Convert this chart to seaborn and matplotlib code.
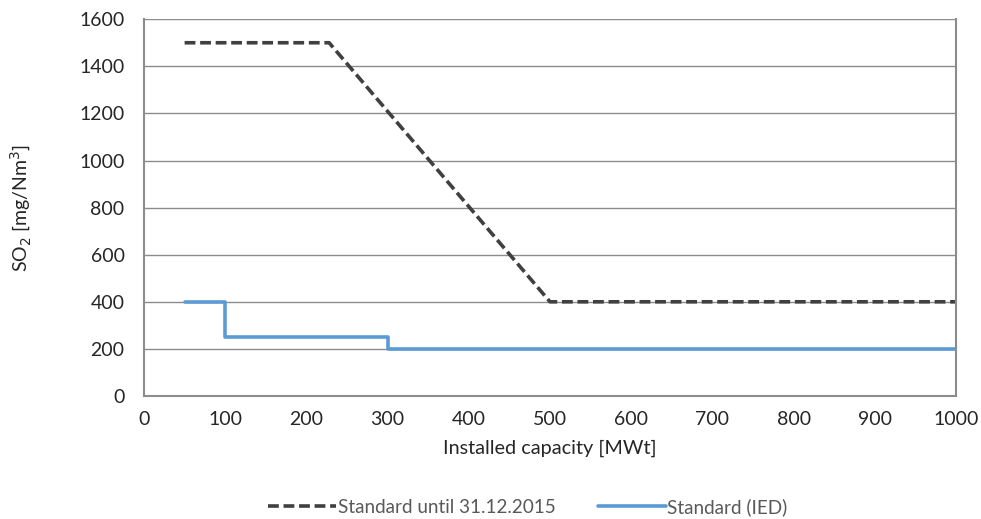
import matplotlib
matplotlib.use("Agg")
import matplotlib.pyplot as plt
import seaborn as sns
import pandas as pd

# Emission limit values for SO2 vs installed capacity
old_capacity = [50, 228, 500, 1000]
old_limit = [1500, 1500, 400, 400]

ied_capacity = [50, 100, 100, 300, 300, 1000]
ied_limit = [400, 400, 250, 250, 200, 200]

old_name = "Standard until 31.12.2015"
ied_name = "Standard (IED)"

df = pd.concat([
    pd.DataFrame({"capacity": old_capacity, "limit": old_limit, "series": old_name}),
    pd.DataFrame({"capacity": ied_capacity, "limit": ied_limit, "series": ied_name}),
])

sns.set_style("white")
plt.rcParams["font.family"] = ["Lato", "DejaVu Sans"]

fig = plt.figure(figsize=(9.81, 5.19), dpi=100)
ax = fig.add_axes([0.1468, 0.237, 0.8277, 0.726])

sns.lineplot(data=df, x="capacity", y="limit", hue="series", style="series",
             palette={old_name: "#404040", ied_name: "#5B9BD5"},
             dashes={old_name: (3, 1.3), ied_name: ""},
             linewidth=2.6, sort=False, estimator=None, ax=ax)

ax.set_xlim(0, 1000)
ax.set_ylim(0, 1600)
ax.set_xticks(range(0, 1001, 100))
ax.set_yticks(range(0, 1601, 200))
ax.grid(axis="y", color="#8c8c8c", linewidth=1)
ax.set_axisbelow(True)
for side in ["left", "bottom", "right"]:
    ax.spines[side].set_color("#8c8c8c")
    ax.spines[side].set_linewidth(1.5)
ax.spines["top"].set_visible(False)
ax.tick_params(axis="both", which="both", direction="out", length=5,
               color="#8c8c8c", labelsize=14, width=1.5)
ax.tick_params(axis="x", pad=6)
ax.tick_params(axis="y", pad=9)

ax.set_xlabel("Installed capacity [MWt]", fontsize=14.3, labelpad=8)
ax.set_ylabel("SO$_2$ [mg/Nm$^3$]", fontsize=14, labelpad=33)

leg = ax.legend(loc="upper center", bbox_to_anchor=(0.473, -0.225), ncol=2,
                frameon=False, fontsize=13.6, handlelength=3.6,
                handletextpad=0.1, columnspacing=2.2)
for t in leg.get_texts():
    t.set_color("#595959")

fig.savefig("out.png", dpi=100)
